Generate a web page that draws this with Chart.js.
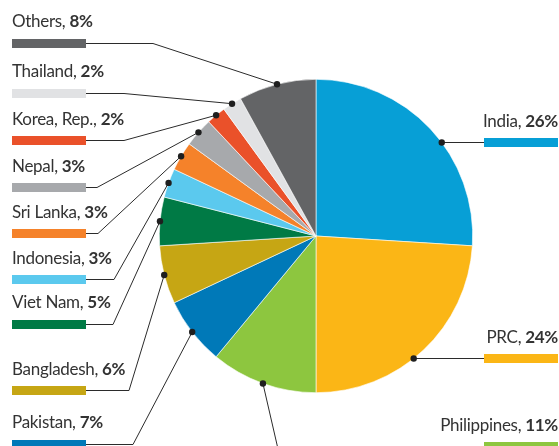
<!DOCTYPE html>
<html>
<head>
<meta charset="utf-8">
<script src="https://cdn.jsdelivr.net/npm/chart.js@4/dist/chart.umd.min.js"></script>
<style>
  html, body { margin: 0; padding: 0; background: #ffffff; }
  #wrap { width: 559px; height: 446px; position: relative; }
</style>
</head>
<body>
<div id="wrap"><canvas id="c" width="559" height="446"></canvas></div>
<script>
// ---- data ----
const categories = ['India', 'PRC', 'Philippines', 'Pakistan', 'Bangladesh', 'Viet Nam',
                    'Indonesia', 'Sri Lanka', 'Nepal', 'Korea, Rep.', 'Thailand', 'Others'];
const shares = [26, 24, 11, 7, 6, 5, 3, 3, 3, 2, 2, 8];
const valueLabels = ['26%', '24%', '11%', '7%', '6%', '5%', '3%', '3%', '3%', '2%', '2%', '8%'];
const sliceColors = ['#079fd6', '#fbb616', '#8dc63f', '#0079b8', '#c6a614', '#007a45',
                     '#5bc9ee', '#f5822a', '#a7a9ac', '#ea512a', '#e1e2e4', '#636466'];

// ---- label layout (side, text baseline, bar top, elbow point / mode) ----
const labelLayout = [
  { side: 'right', base: 127, bar: 138, mode: 'horizontal' },
  { side: 'right', base: 343, bar: 354, mode: 'horizontal' },
  { side: 'right', base: 431, bar: 442, elbow: [281, 462] },
  { side: 'left',  base: 428, bar: 440, elbow: [133, 444.5] },
  { side: 'left',  base: 375, bar: 386, elbow: [129, 390.5] },
  { side: 'left',  base: 308, bar: 320, elbow: [113, 324.5] },
  { side: 'left',  base: 264, bar: 275, elbow: [114, 279.5] },
  { side: 'left',  base: 218, bar: 229, elbow: [98, 233.5] },
  { side: 'left',  base: 172, bar: 183, elbow: [97, 187.5] },
  { side: 'left',  base: 125, bar: 136, elbow: [124, 140.5] },
  { side: 'left',  base: 77,  bar: 89,  elbow: [124, 93.5] },
  { side: 'left',  base: 27,  bar: 39,  elbow: [153, 43.5] }
];

const FONT_FAMILY = 'Lato, "Open Sans", sans-serif';
const FONT_SIZE = 17;
const TEXT_COLOR = '#333333';
const LINE_COLOR = '#2b2b2b';
const BAR_W = 74, BAR_H = 9;
const LEFT_X = 12, RIGHT_X = 558;

const calloutPlugin = {
  id: 'callouts',
  afterDatasetsDraw(chart) {
    const ctx = chart.ctx;
    const meta = chart.getDatasetMeta(0);
    ctx.save();
    meta.data.forEach((arc, i) => {
      const L = labelLayout[i];
      const p = arc.getProps(['x', 'y', 'startAngle', 'endAngle', 'outerRadius'], true);
      const r = p.outerRadius;
      const barCy = L.bar + BAR_H / 2;
      let dot;
      if (L.mode === 'horizontal') {
        const dy = barCy - p.y;
        const dx = Math.sqrt(Math.max(r * r - dy * dy, 0));
        dot = [p.x + dx, barCy];
      } else {
        const mid = (p.startAngle + p.endAngle) / 2;
        dot = [p.x + Math.cos(mid) * r, p.y + Math.sin(mid) * r];
      }
      // bar
      const barX = L.side === 'left' ? LEFT_X : RIGHT_X - BAR_W;
      ctx.fillStyle = sliceColors[i];
      ctx.fillRect(barX, L.bar, BAR_W, BAR_H);
      // leader line
      ctx.strokeStyle = LINE_COLOR;
      ctx.lineWidth = 1;
      ctx.beginPath();
      ctx.moveTo(dot[0], dot[1]);
      const barEnd = L.side === 'left' ? LEFT_X + BAR_W : RIGHT_X - BAR_W;
      if (L.elbow) {
        ctx.lineTo(L.elbow[0], L.elbow[1]);
        ctx.lineTo(barEnd, L.elbow[1]);
      } else {
        ctx.lineTo(barEnd, barCy);
      }
      ctx.stroke();
      // dot
      ctx.fillStyle = '#1f1f1f';
      ctx.beginPath();
      ctx.arc(dot[0], dot[1], 3.2, 0, Math.PI * 2);
      ctx.fill();
      // text
      const nameTxt = categories[i] + ', ';
      const valTxt = valueLabels[i];
      if ('letterSpacing' in ctx) ctx.letterSpacing = '-0.3px';
      ctx.fillStyle = TEXT_COLOR;
      ctx.textBaseline = 'alphabetic';
      ctx.textAlign = 'left';
      ctx.font = '400 ' + FONT_SIZE + 'px ' + FONT_FAMILY;
      const wName = ctx.measureText(nameTxt).width;
      ctx.font = '700 ' + FONT_SIZE + 'px ' + FONT_FAMILY;
      const wVal = ctx.measureText(valTxt).width;
      const startX = L.side === 'left' ? LEFT_X : RIGHT_X - wName - wVal;
      ctx.font = '400 ' + FONT_SIZE + 'px ' + FONT_FAMILY;
      ctx.fillText(nameTxt, startX, L.base);
      ctx.font = '700 ' + FONT_SIZE + 'px ' + FONT_FAMILY;
      ctx.fillText(valTxt, startX + wName, L.base);
      if ('letterSpacing' in ctx) ctx.letterSpacing = '0px';
    });
    ctx.restore();
  }
};

new Chart(document.getElementById('c'), {
  type: 'pie',
  data: {
    labels: categories,
    datasets: [{
      data: shares,
      backgroundColor: sliceColors,
      borderColor: '#ffffff',
      borderWidth: 0.6
    }]
  },
  options: {
    responsive: false,
    devicePixelRatio: 1,
    animation: false,
    layout: { padding: { left: 159, right: 86, top: 79, bottom: 53 } },
    plugins: {
      legend: { display: false },
      tooltip: { enabled: false }
    }
  },
  plugins: [calloutPlugin]
});
</script>
</body>
</html>
